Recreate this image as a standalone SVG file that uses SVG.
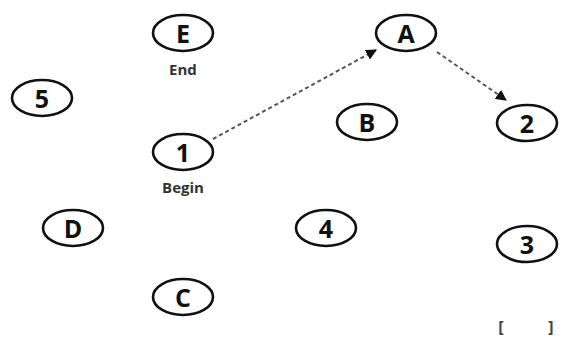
<svg xmlns="http://www.w3.org/2000/svg" width="568" height="346" viewBox="0 0 568 346">
<style>
.n ellipse{fill:#fff;stroke:#111;stroke-width:2.6}
.n text{font-family:"Open Sans","DejaVu Sans",sans-serif;font-size:25px;font-weight:700;fill:#111;text-anchor:middle;dominant-baseline:central}
.l{font-family:"Open Sans","DejaVu Sans",sans-serif;font-size:15px;font-weight:700;fill:#333;text-anchor:middle}
.b{font-family:"Open Sans","DejaVu Sans",sans-serif;font-size:16px;font-weight:700;fill:#444;text-anchor:middle}
.e{stroke:#555;stroke-width:2;stroke-dasharray:4,3;fill:none}
</style>
<defs>
<marker id="ah" viewBox="0 0 10 10" refX="9" refY="5" markerWidth="11" markerHeight="11" markerUnits="userSpaceOnUse" orient="auto">
<path d="M0,0 L10,5 L0,10 z" fill="#111"/>
</marker>
</defs>
<rect width="568" height="346" fill="#fff"/>
<g id="connectors">
<path class="e" d="M213,139 L376,50" marker-end="url(#ah)"/>
<path class="e" d="M437,52 L506,100" marker-end="url(#ah)"/>
</g>
<g id="E" class="n"><ellipse cx="183" cy="33" rx="30" ry="18"/><text x="183" y="33">E</text></g>
<text class="l" x="183" y="75">End</text>
<g id="A" class="n"><ellipse cx="406" cy="33" rx="30" ry="18"/><text x="406" y="33">A</text></g>
<g id="n5" class="n"><ellipse cx="42" cy="98" rx="30" ry="18"/><text x="42" y="98">5</text></g>
<g id="B" class="n"><ellipse cx="367" cy="122" rx="30" ry="18"/><text x="367" y="122">B</text></g>
<g id="n2" class="n"><ellipse cx="527" cy="123" rx="30" ry="18"/><text x="527" y="123">2</text></g>
<g id="n1" class="n"><ellipse cx="183" cy="152" rx="30" ry="18"/><text x="183" y="152">1</text></g>
<text class="l" x="183" y="193">Begin</text>
<g id="D" class="n"><ellipse cx="73" cy="228" rx="30" ry="18"/><text x="73" y="228">D</text></g>
<g id="n4" class="n"><ellipse cx="326" cy="228" rx="30" ry="18"/><text x="326" y="228">4</text></g>
<g id="n3" class="n"><ellipse cx="527" cy="244" rx="30" ry="18"/><text x="527" y="244">3</text></g>
<g id="C" class="n"><ellipse cx="183" cy="297" rx="30" ry="18"/><text x="183" y="297">C</text></g>
<text class="b" x="501" y="333">[</text>
<text class="b" x="551" y="333">]</text>
</svg>
